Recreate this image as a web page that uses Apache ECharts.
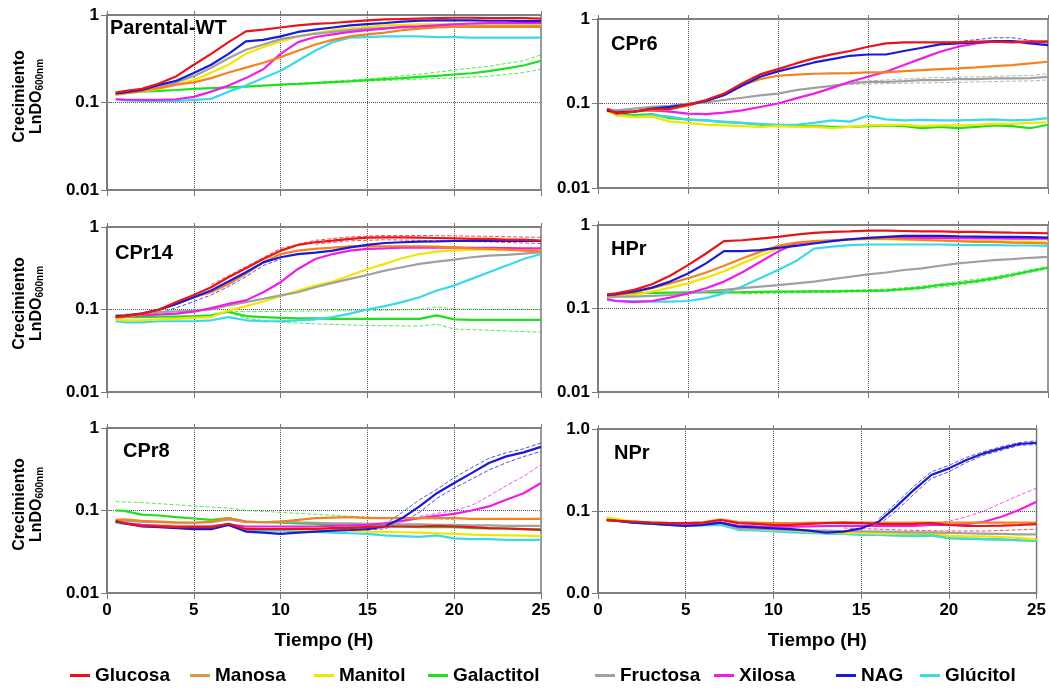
<!DOCTYPE html>
<html>
<head>
<meta charset="utf-8">
<script src="https://cdn.jsdelivr.net/npm/echarts@6/dist/echarts.min.js"></script>
<style>
  html, body { margin: 0; padding: 0; background: #fff; }
  #chart { width: 1049px; height: 695px; }
</style>
</head>
<body>
<div id="chart"></div>
<script>
// tiempo (h) comun a todas las curvas
const hours = [0.5, 1, 2, 3, 4, 5, 6, 7, 8, 9, 10, 11, 12, 13, 14, 15, 16, 17, 18, 19, 20, 21, 22, 23, 24, 25];

const sugarNames = ['Glucosa', 'Manosa', 'Manitol', 'Galactitol', 'Fructosa', 'Xilosa', 'NAG', 'Glúcitol'];
const sugarColors = ['#e8141c', '#f5821f', '#f2e600', '#1ee01e', '#a0a0a0', '#ee1ee8', '#1a1ad6', '#3ad8ec'];

// Parental-WT
const wt_glu = [0.13,0.135,0.143,0.165,0.2,0.27,0.36,0.49,0.65,0.68,0.72,0.76,0.79,0.81,0.84,0.87,0.89,0.9,0.91,0.92,0.93,0.93,0.92,0.92,0.92,0.91];
const wt_man = [0.124,0.128,0.136,0.146,0.16,0.17,0.19,0.22,0.25,0.285,0.33,0.39,0.46,0.52,0.57,0.6,0.63,0.67,0.7,0.72,0.73,0.73,0.73,0.73,0.73,0.73];
const wt_mnt = [0.122,0.126,0.133,0.143,0.16,0.18,0.22,0.27,0.36,0.43,0.5,0.57,0.62,0.67,0.7,0.73,0.76,0.77,0.78,0.78,0.78,0.78,0.78,0.78,0.78,0.78];
const wt_gal = [0.127,0.129,0.133,0.136,0.139,0.143,0.146,0.149,0.152,0.156,0.16,0.163,0.167,0.171,0.175,0.18,0.185,0.19,0.196,0.202,0.209,0.216,0.228,0.245,0.265,0.3];
const wt_fru = [0.125,0.128,0.135,0.15,0.17,0.2,0.25,0.32,0.4,0.46,0.53,0.57,0.61,0.64,0.67,0.7,0.71,0.72,0.73,0.74,0.74,0.75,0.75,0.75,0.75,0.75];
const wt_xil = [0.109,0.108,0.107,0.107,0.109,0.116,0.133,0.156,0.19,0.24,0.36,0.49,0.56,0.6,0.64,0.67,0.7,0.73,0.74,0.76,0.78,0.8,0.81,0.81,0.81,0.81];
const wt_nag = [0.127,0.13,0.139,0.159,0.177,0.218,0.27,0.36,0.5,0.52,0.57,0.64,0.68,0.72,0.76,0.785,0.81,0.84,0.86,0.87,0.87,0.87,0.86,0.86,0.85,0.85];
const wt_glc = [0.109,0.106,0.104,0.104,0.104,0.107,0.11,0.133,0.156,0.19,0.23,0.3,0.39,0.49,0.55,0.56,0.57,0.57,0.57,0.56,0.56,0.55,0.55,0.55,0.55,0.55];
const wt_galHi = [[10,0.161],[12,0.17],[15,0.186],[18,0.21],[20,0.235],[22,0.26],[24,0.3],[25,0.35]];
const wt_galLo = [[10,0.159],[12,0.164],[15,0.175],[18,0.185],[20,0.19],[22,0.2],[24,0.22],[25,0.24]];

// CPr6
const cpr6_glu = [0.087,0.076,0.08,0.086,0.086,0.097,0.11,0.131,0.173,0.221,0.255,0.298,0.342,0.381,0.418,0.47,0.514,0.529,0.53,0.53,0.53,0.54,0.54,0.53,0.54,0.54];
const cpr6_man = [0.083,0.08,0.08,0.083,0.086,0.094,0.107,0.128,0.165,0.194,0.213,0.22,0.225,0.227,0.229,0.233,0.233,0.242,0.248,0.255,0.26,0.267,0.277,0.285,0.298,0.312];
const cpr6_mnt = [0.081,0.073,0.069,0.07,0.061,0.059,0.056,0.055,0.054,0.053,0.054,0.053,0.053,0.051,0.053,0.055,0.056,0.056,0.054,0.055,0.055,0.056,0.0575,0.0575,0.059,0.06];
const cpr6_gal = [0.084,0.077,0.073,0.075,0.067,0.065,0.063,0.06,0.059,0.056,0.055,0.054,0.054,0.053,0.053,0.054,0.055,0.054,0.051,0.053,0.051,0.053,0.055,0.054,0.051,0.056];
const cpr6_fru = [0.086,0.083,0.087,0.091,0.094,0.1,0.103,0.11,0.117,0.125,0.131,0.144,0.153,0.162,0.173,0.18,0.18,0.184,0.189,0.189,0.194,0.194,0.198,0.198,0.2,0.207];
const cpr6_xil = [0.083,0.08,0.081,0.083,0.08,0.076,0.075,0.078,0.083,0.091,0.1,0.115,0.131,0.153,0.181,0.207,0.238,0.285,0.342,0.41,0.47,0.514,0.539,0.539,0.539,0.539];
const cpr6_nag = [0.083,0.078,0.08,0.087,0.091,0.097,0.107,0.125,0.162,0.207,0.24,0.27,0.306,0.335,0.367,0.38,0.38,0.418,0.457,0.5,0.514,0.53,0.548,0.548,0.514,0.49];
const cpr6_glc = [0.084,0.073,0.07,0.073,0.07,0.064,0.063,0.061,0.059,0.0575,0.056,0.056,0.059,0.063,0.061,0.0715,0.065,0.063,0.064,0.063,0.063,0.064,0.065,0.063,0.064,0.067];
const cpr6_fruHi = [[14,0.18],[16,0.19],[18,0.2],[20,0.205],[22,0.21],[24,0.215],[25,0.225]];
const cpr6_fruLo = [[14,0.168],[16,0.172],[18,0.175],[20,0.178],[22,0.182],[24,0.185],[25,0.19]];
const cpr6_nagHi = [[19,0.51],[20,0.54],[21,0.57],[22,0.6],[23,0.6],[24,0.56],[25,0.51]];

// CPr14
const cpr14_glu = [0.081,0.083,0.089,0.1,0.123,0.15,0.186,0.246,0.316,0.41,0.517,0.606,0.653,0.683,0.716,0.743,0.75,0.75,0.743,0.736,0.729,0.716,0.716,0.703,0.703,0.683];
const cpr14_man = [0.08,0.081,0.087,0.098,0.117,0.141,0.162,0.204,0.27,0.373,0.47,0.517,0.542,0.562,0.584,0.584,0.584,0.584,0.584,0.578,0.567,0.552,0.542,0.532,0.517,0.503];
const cpr14_mnt = [0.076,0.074,0.074,0.076,0.077,0.079,0.081,0.097,0.11,0.125,0.145,0.17,0.195,0.218,0.258,0.31,0.357,0.418,0.47,0.503,0.522,0.532,0.532,0.532,0.527,0.517];
const cpr14_gal = [0.081,0.081,0.081,0.082,0.082,0.083,0.085,0.094,0.083,0.081,0.079,0.078,0.078,0.077,0.077,0.077,0.077,0.077,0.077,0.085,0.076,0.075,0.075,0.075,0.075,0.075];
const cpr14_fru = [0.085,0.086,0.089,0.093,0.095,0.097,0.1,0.112,0.123,0.135,0.148,0.162,0.186,0.21,0.235,0.262,0.296,0.325,0.357,0.38,0.403,0.43,0.45,0.46,0.475,0.494];
const cpr14_xil = [0.081,0.082,0.085,0.087,0.089,0.094,0.104,0.117,0.129,0.162,0.214,0.31,0.41,0.47,0.517,0.542,0.552,0.56,0.562,0.562,0.562,0.56,0.56,0.556,0.552,0.552];
const cpr14_nag = [0.083,0.084,0.089,0.1,0.117,0.141,0.17,0.218,0.283,0.373,0.43,0.47,0.49,0.517,0.567,0.606,0.64,0.653,0.665,0.67,0.677,0.677,0.677,0.677,0.677,0.677];
const cpr14_glc = [0.072,0.07,0.07,0.072,0.072,0.072,0.074,0.081,0.074,0.072,0.072,0.074,0.076,0.081,0.089,0.1,0.11,0.123,0.141,0.17,0.195,0.235,0.283,0.34,0.41,0.47];
const cpr14_galHi = [[7,0.096],[8,0.094],[10,0.095],[12,0.096],[15,0.097],[18,0.1],[19,0.108],[20,0.101],[22,0.1],[25,0.1]];
const cpr14_galLo = [[7,0.092],[8,0.078],[10,0.07],[12,0.067],[15,0.064],[18,0.063],[19,0.066],[20,0.058],[22,0.056],[25,0.053]];
const cpr14_gluHi = [[6,0.2],[8,0.33],[10,0.55],[12,0.69],[14,0.76],[16,0.79],[18,0.79],[20,0.78],[22,0.77],[25,0.75]];
const cpr14_gluLo = [[12,0.62],[14,0.68],[16,0.7],[18,0.69],[20,0.67],[22,0.66],[25,0.63]];
const cpr14_nagLo = [[2,0.085],[3,0.09],[4,0.105],[5,0.125],[6,0.15],[7,0.19],[8,0.25],[9,0.34],[10,0.41]];

// HPr
const hpr_glu = [0.148,0.152,0.167,0.195,0.247,0.331,0.456,0.64,0.657,0.688,0.72,0.767,0.803,0.826,0.84,0.857,0.857,0.848,0.84,0.84,0.826,0.826,0.818,0.81,0.803,0.796];
const hpr_man = [0.143,0.145,0.156,0.175,0.2,0.23,0.27,0.325,0.397,0.477,0.562,0.616,0.64,0.657,0.675,0.688,0.688,0.675,0.664,0.652,0.64,0.628,0.628,0.616,0.61,0.6];
const hpr_mnt = [0.139,0.141,0.145,0.16,0.178,0.2,0.234,0.28,0.347,0.428,0.523,0.6,0.628,0.652,0.664,0.675,0.675,0.664,0.657,0.652,0.646,0.64,0.64,0.634,0.634,0.628];
const hpr_gal = [0.145,0.148,0.152,0.154,0.155,0.156,0.156,0.156,0.156,0.158,0.159,0.159,0.16,0.16,0.162,0.163,0.165,0.171,0.178,0.191,0.2,0.213,0.23,0.252,0.28,0.308];
const hpr_fru = [0.139,0.139,0.139,0.142,0.145,0.152,0.16,0.167,0.175,0.183,0.191,0.2,0.21,0.225,0.24,0.256,0.27,0.289,0.302,0.325,0.347,0.363,0.38,0.39,0.405,0.416];
const hpr_xil = [0.13,0.123,0.119,0.123,0.135,0.152,0.175,0.21,0.27,0.36,0.48,0.6,0.63,0.65,0.675,0.688,0.7,0.7,0.7,0.7,0.695,0.69,0.69,0.688,0.688,0.688];
const hpr_nag = [0.145,0.148,0.16,0.178,0.21,0.263,0.347,0.486,0.486,0.5,0.532,0.562,0.6,0.64,0.675,0.7,0.72,0.74,0.74,0.74,0.733,0.727,0.72,0.72,0.714,0.707];
const hpr_glc = [0.127,0.123,0.123,0.121,0.121,0.123,0.133,0.152,0.183,0.23,0.289,0.37,0.52,0.55,0.573,0.584,0.584,0.584,0.584,0.584,0.578,0.573,0.573,0.568,0.568,0.563];
const hpr_galHi = [[8,0.158],[12,0.163],[16,0.17],[18,0.185],[20,0.21],[22,0.24],[24,0.29],[25,0.32]];
const hpr_galLo = [[8,0.15],[12,0.155],[16,0.16],[18,0.172],[20,0.19],[22,0.22],[24,0.27],[25,0.3]];

// CPr8
const cpr8_glu = [0.075,0.07,0.065,0.064,0.0628,0.0628,0.0628,0.069,0.0593,0.0593,0.0593,0.0598,0.06,0.061,0.061,0.0628,0.064,0.064,0.064,0.065,0.064,0.0628,0.061,0.0605,0.0593,0.058];
const cpr8_man = [0.077,0.078,0.075,0.0735,0.072,0.071,0.0735,0.081,0.0735,0.072,0.0735,0.077,0.081,0.082,0.083,0.081,0.081,0.081,0.081,0.081,0.081,0.079,0.079,0.079,0.079,0.079];
const cpr8_mnt = [0.0735,0.07,0.067,0.066,0.065,0.064,0.064,0.069,0.061,0.06,0.0593,0.059,0.058,0.0575,0.057,0.0556,0.055,0.0545,0.054,0.053,0.052,0.051,0.0505,0.05,0.0495,0.049];
const cpr8_gal = [0.1,0.099,0.089,0.087,0.083,0.08,0.077,0.081,0.0735,0.072,0.071,0.07,0.069,0.067,0.065,0.065,0.064,0.064,0.063,0.063,0.063,0.061,0.0605,0.0605,0.0593,0.0593];
const cpr8_fru = [0.077,0.075,0.073,0.072,0.071,0.071,0.072,0.078,0.072,0.072,0.0735,0.072,0.071,0.07,0.07,0.069,0.069,0.068,0.068,0.067,0.067,0.066,0.066,0.065,0.065,0.065];
const cpr8_xil = [0.0735,0.07,0.067,0.065,0.064,0.064,0.064,0.068,0.064,0.064,0.064,0.064,0.064,0.065,0.066,0.067,0.07,0.075,0.081,0.086,0.091,0.1,0.112,0.135,0.162,0.215];
const cpr8_nag = [0.0735,0.07,0.064,0.0628,0.061,0.0593,0.0593,0.067,0.0556,0.054,0.052,0.054,0.0556,0.057,0.058,0.0593,0.064,0.081,0.112,0.162,0.215,0.284,0.376,0.453,0.506,0.59];
const cpr8_glc = [0.071,0.069,0.067,0.066,0.065,0.065,0.065,0.067,0.058,0.057,0.057,0.056,0.055,0.054,0.053,0.052,0.05,0.049,0.048,0.05,0.046,0.045,0.045,0.044,0.044,0.044];
const cpr8_nagHi = [[15,0.06],[16,0.068],[17,0.095],[18,0.135],[19,0.18],[20,0.25],[21,0.33],[22,0.43],[23,0.5],[24,0.56],[25,0.66]];
const cpr8_nagLo = [[15,0.058],[16,0.06],[17,0.072],[18,0.095],[19,0.14],[20,0.187],[21,0.24],[22,0.31],[23,0.38],[24,0.45],[25,0.52]];
const cpr8_xilHi = [[18,0.085],[20,0.1],[21,0.115],[22,0.15],[23,0.2],[24,0.26],[25,0.36]];
const cpr8_galHi = [[0.5,0.128],[2,0.125],[4,0.117],[6,0.11],[7,0.107],[8,0.1],[10,0.095],[12,0.09],[14,0.085],[16,0.082],[18,0.08],[20,0.078]];

// NPr
const npr_glu = [0.0777,0.0765,0.074,0.072,0.071,0.071,0.072,0.0777,0.071,0.0695,0.0675,0.0675,0.0695,0.071,0.072,0.071,0.0695,0.069,0.0695,0.071,0.0675,0.0656,0.0656,0.0665,0.0675,0.069];
const npr_man = [0.0765,0.0755,0.074,0.0725,0.0715,0.071,0.0725,0.079,0.073,0.072,0.071,0.071,0.0715,0.072,0.072,0.072,0.072,0.072,0.072,0.072,0.072,0.072,0.072,0.072,0.072,0.072];
const npr_mnt = [0.084,0.08,0.074,0.071,0.069,0.0675,0.069,0.072,0.0615,0.06,0.059,0.058,0.056,0.0545,0.0535,0.0535,0.053,0.053,0.053,0.0535,0.0497,0.049,0.049,0.048,0.047,0.045];
const npr_gal = [0.08,0.077,0.072,0.07,0.068,0.0656,0.067,0.07,0.06,0.059,0.058,0.057,0.0545,0.054,0.053,0.0525,0.052,0.052,0.051,0.0525,0.0465,0.046,0.0455,0.045,0.044,0.0436];
const npr_fru = [0.0777,0.076,0.073,0.071,0.069,0.0675,0.069,0.072,0.0615,0.061,0.06,0.059,0.058,0.0575,0.057,0.0565,0.056,0.0555,0.055,0.055,0.054,0.0535,0.053,0.0525,0.052,0.052];
const npr_xil = [0.0777,0.076,0.073,0.071,0.069,0.0675,0.069,0.072,0.066,0.065,0.0644,0.0644,0.065,0.0656,0.066,0.066,0.066,0.066,0.066,0.0675,0.0675,0.069,0.074,0.085,0.103,0.13];
const npr_nag = [0.0777,0.076,0.072,0.07,0.0675,0.0656,0.0675,0.072,0.0644,0.063,0.0615,0.06,0.0576,0.0544,0.056,0.0615,0.074,0.113,0.18,0.275,0.331,0.419,0.505,0.581,0.656,0.68];
const npr_glc = [0.0777,0.076,0.072,0.07,0.068,0.0656,0.067,0.0675,0.059,0.058,0.0565,0.055,0.054,0.053,0.0525,0.051,0.051,0.05,0.0495,0.05,0.0465,0.046,0.0455,0.045,0.044,0.0436];
const npr_nagHi = [[16,0.08],[17,0.125],[18,0.2],[19,0.3],[20,0.36],[21,0.45],[22,0.53],[23,0.61],[24,0.68],[25,0.72]];
const npr_nagLo = [[16,0.068],[17,0.1],[18,0.16],[19,0.25],[20,0.3],[21,0.39],[22,0.48],[23,0.55],[24,0.63],[25,0.65]];
const npr_xilHi = [[19,0.07],[20,0.075],[21,0.085],[22,0.1],[23,0.125],[24,0.155],[25,0.19]];
const npr_gluLo = [[14,0.062],[16,0.06],[18,0.058],[20,0.057],[22,0.057],[25,0.06]];

const FONT = '"Liberation Sans", Arial, sans-serif';
const AXIS_GRAY = '#7a7a7a';

// paneles: posicion de cada rejilla y su titulo
const panels = [
  { title: 'Parental-WT', pos: [107, 15, 434, 175], tpos: [110, 18], yName: true, xLab: false, dec1: false,
    curves: [wt_glu, wt_man, wt_mnt, wt_gal, wt_fru, wt_xil, wt_nag, wt_glc],
    bands: [[3, wt_galHi], [3, wt_galLo]] },
  { title: 'CPr6', pos: [598, 19, 450, 169], tpos: [611, 34], yName: false, xLab: false, dec1: false,
    curves: [cpr6_glu, cpr6_man, cpr6_mnt, cpr6_gal, cpr6_fru, cpr6_xil, cpr6_nag, cpr6_glc],
    bands: [[4, cpr6_fruHi], [4, cpr6_fruLo], [6, cpr6_nagHi]] },
  { title: 'CPr14', pos: [107, 227, 434, 165], tpos: [115, 243], yName: true, xLab: false, dec1: false,
    curves: [cpr14_glu, cpr14_man, cpr14_mnt, cpr14_gal, cpr14_fru, cpr14_xil, cpr14_nag, cpr14_glc],
    bands: [[3, cpr14_galHi], [3, cpr14_galLo], [0, cpr14_gluHi], [0, cpr14_gluLo], [6, cpr14_nagLo]] },
  { title: 'HPr', pos: [598, 225, 450, 167], tpos: [611, 239], yName: false, xLab: false, dec1: false,
    curves: [hpr_glu, hpr_man, hpr_mnt, hpr_gal, hpr_fru, hpr_xil, hpr_nag, hpr_glc],
    bands: [[3, hpr_galHi], [3, hpr_galLo]] },
  { title: 'CPr8', pos: [107, 428, 434, 165], tpos: [123, 441], yName: true, xLab: true, dec1: false,
    curves: [cpr8_glu, cpr8_man, cpr8_mnt, cpr8_gal, cpr8_fru, cpr8_xil, cpr8_nag, cpr8_glc],
    bands: [[6, cpr8_nagHi], [6, cpr8_nagLo], [5, cpr8_xilHi], [3, cpr8_galHi]] },
  { title: 'NPr', pos: [598, 429, 450, 164], tpos: [614, 443], yName: false, xLab: true, dec1: true,
    curves: [npr_glu, npr_man, npr_mnt, npr_gal, npr_fru, npr_xil, npr_nag, npr_glc],
    bands: [[6, npr_nagHi], [6, npr_nagLo], [5, npr_xilHi], [0, npr_gluLo]] }
];

// orden de dibujo (rojo encima)
const drawOrder = [3, 7, 2, 4, 5, 1, 6, 0];
const legendLeft = [70, 190, 314, 428, 595, 714, 836, 920];

let chart = echarts.init(document.getElementById('chart'));

let grids = [], xAxes = [], yAxes = [], xFrame = [], yFrame = [], series = [], titles = [], legends = [];

const dotted = { show: true, showMinLine: false, showMaxLine: false, lineStyle: { type: 'dotted', color: '#555', width: 1 } };

panels.forEach((p, i) => {
  grids.push({
    left: p.pos[0], top: p.pos[1], width: p.pos[2], height: p.pos[3],
    show: true, borderColor: AXIS_GRAY, borderWidth: 1.5, containLabel: false
  });
  xAxes.push({
    type: 'value', gridIndex: i, min: 0, max: 25, interval: 5,
    axisLine: { show: true, lineStyle: { color: AXIS_GRAY, width: 1.5 } },
    axisTick: { show: true, length: 6, lineStyle: { color: AXIS_GRAY } },
    axisLabel: { show: p.xLab, margin: 9, color: '#000', fontSize: 17, fontWeight: 'bold', fontFamily: FONT },
    splitLine: dotted,
    name: p.xLab ? 'Tiempo (H)' : '',
    nameLocation: 'middle', nameGap: 38,
    nameTextStyle: { color: '#000', fontSize: 19, fontWeight: 'bold', fontFamily: FONT }
  });
  yAxes.push({
    type: 'log', logBase: 10, gridIndex: i, min: 0.01, max: 1,
    axisLine: { show: true, lineStyle: { color: AXIS_GRAY, width: 1.5 } },
    axisTick: { show: true, length: 6, lineStyle: { color: AXIS_GRAY } },
    axisLabel: {
      margin: 8, color: '#000', fontSize: 17, fontWeight: 'bold', fontFamily: FONT,
      formatter: v => {
        if (p.dec1) return v > 0.5 ? '1.0' : (v > 0.05 ? '0.1' : '0.0');
        return v > 0.5 ? '1' : (v > 0.05 ? '0.1' : '0.01');
      }
    },
    splitLine: dotted,
    name: p.yName ? '{a|Crecimiento}\n{b|LnDO}{s|600nm}' : '',
    nameLocation: 'middle', nameGap: 62,
    nameTextStyle: {
      color: '#000', fontFamily: FONT, padding: [0, 0, 0, 12],
      rich: {
        a: { fontSize: 16, fontWeight: 'bold', lineHeight: 17, fontFamily: FONT, color: '#000' },
        b: { fontSize: 16, fontWeight: 'bold', lineHeight: 17, fontFamily: FONT, color: '#000' },
        s: { fontSize: 10, fontWeight: 'bold', lineHeight: 17, verticalAlign: 'bottom', fontFamily: FONT, color: '#000' }
      }
    }
  });
  // ejes de marco (arriba / derecha) solo con marcas
  xFrame.push({
    type: 'value', gridIndex: i, position: 'top', min: 0, max: 25, interval: 5,
    axisLine: { show: true, lineStyle: { color: AXIS_GRAY, width: 1.5 } },
    axisTick: { show: true, length: 4, lineStyle: { color: AXIS_GRAY } },
    axisLabel: { show: false }, splitLine: { show: false }
  });
  yFrame.push({
    type: 'log', logBase: 10, gridIndex: i, position: 'right', min: 0.01, max: 1,
    axisLine: { show: true, lineStyle: { color: AXIS_GRAY, width: 1.5 } },
    axisTick: { show: true, length: 4, lineStyle: { color: AXIS_GRAY } },
    axisLabel: { show: false }, splitLine: { show: false }
  });
  titles.push({
    text: p.title, left: p.tpos[0], top: p.tpos[1], padding: 0,
    textStyle: { color: '#000', fontSize: 20, fontWeight: 'bold', fontFamily: FONT }
  });
  // lineas de desviacion (discontinuas), debajo de las medias
  p.bands.forEach(b => {
    series.push({
      name: sugarNames[b[0]] + ' DE', type: 'line', xAxisIndex: i, yAxisIndex: i,
      data: b[1], showSymbol: false, symbol: 'none', z: 2, silent: true,
      lineStyle: { color: sugarColors[b[0]], width: 1, type: 'dashed', opacity: 0.75 }
    });
  });
  drawOrder.forEach(s => {
    series.push({
      name: sugarNames[s], type: 'line', xAxisIndex: i, yAxisIndex: i,
      data: hours.map((h, k) => [h, p.curves[s][k]]),
      showSymbol: false, symbol: 'none', z: 3,
      color: sugarColors[s],
      lineStyle: { color: sugarColors[s], width: 2.2 }
    });
  });
});

sugarNames.forEach((n, s) => {
  legends.push({
    data: [{ name: n, itemStyle: { color: s === 1 ? '#d09a48' : sugarColors[s] } }],
    left: legendLeft[s], top: 666, padding: 0, itemGap: 0,
    icon: 'rect', itemWidth: 20, itemHeight: 3, selectedMode: false,
    textStyle: { color: '#000', fontSize: 19, fontWeight: 'bold', fontFamily: FONT }
  });
});

let option = {
  animation: false,
  backgroundColor: '#fff',
  title: titles,
  legend: legends,
  grid: grids,
  xAxis: xAxes.concat(xFrame),
  yAxis: yAxes.concat(yFrame),
  series: series
};

chart.setOption(option);
</script>
</body>
</html>
